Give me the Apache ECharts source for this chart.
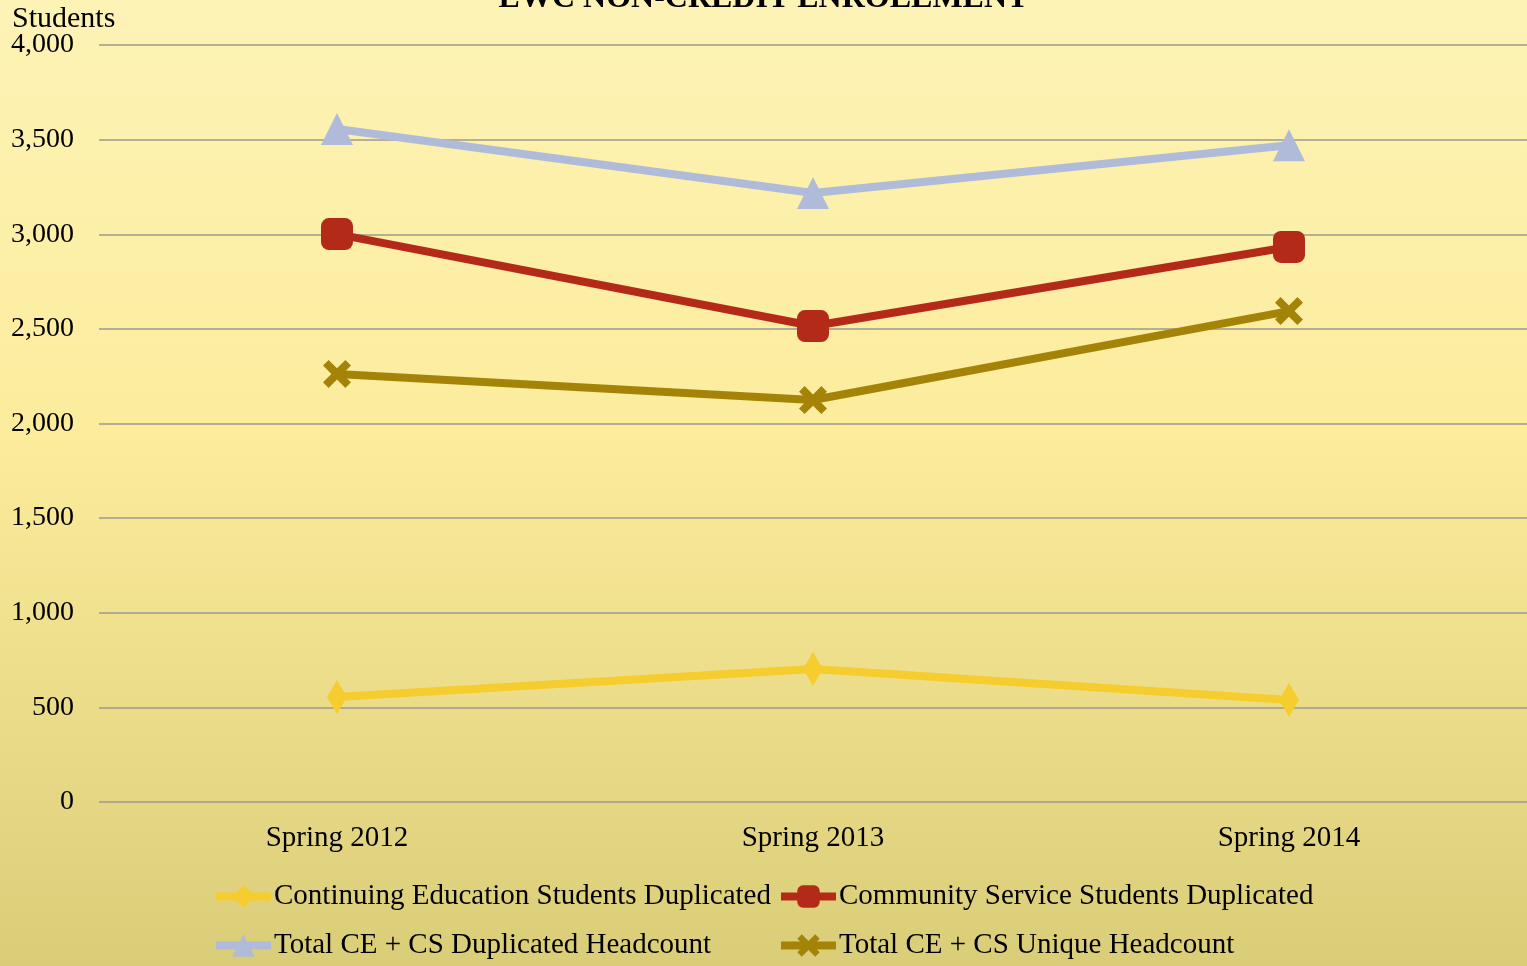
<!DOCTYPE html>
<html>
<head>
<meta charset="utf-8">
<script src="https://cdn.jsdelivr.net/npm/echarts@6/dist/echarts.min.js"></script>
<style>
  html, body { margin: 0; padding: 0; }
  #chart { width: 1527px; height: 966px; }
</style>
</head>
<body>
<div id="chart"></div>
<script>
let categories = ['Spring 2012', 'Spring 2013', 'Spring 2014'];
let ceDuplicated = [555, 703, 539];
let csDuplicated = [3001, 2515, 2933];
let totalDuplicated = [3556, 3218, 3470];
let totalUnique = [2262, 2124, 2594];
let yTicks = [0, 500, 1000, 1500, 2000, 2500, 3000, 3500, 4000];

let chart = echarts.init(document.querySelector('#chart'));

const serif = '"Liberation Serif", "Times New Roman", serif';
const xPath = 'path://M0,2 L2,0 L5,3 L8,0 L10,2 L7,5 L10,8 L8,10 L5,7 L2,10 L0,8 L3,5 Z';

function lineSeries(name, data, color, symbol, size) {
  return {
    name: name,
    type: 'line',
    data: data,
    symbol: symbol,
    symbolSize: size,
    showAllSymbol: true,
    lineStyle: { color: color, width: 8 },
    itemStyle: { color: color },
    emphasis: { disabled: true }
  };
}

let legendText = { fontFamily: serif, fontSize: 29, color: '#000', padding: [0, 0, 0, -2] };

let option = {
  animation: false,
  backgroundColor: {
    type: 'linear', x: 0, y: 0, x2: 0, y2: 1,
    colorStops: [
      { offset: 0, color: '#fdf3b6' },
      { offset: 0.45, color: '#fcec9c' },
      { offset: 1, color: '#dacd78' }
    ]
  },
  title: [
    {
      text: 'EWC NON-CREDIT ENROLLMENT',
      left: 'center',
      top: -22,
      textStyle: { fontFamily: serif, fontSize: 32, fontWeight: 'bold', color: '#000' }
    },
    {
      // y axis name
      text: 'Students',
      left: 12, top: 4,
      padding: 0,
      textStyle: { fontFamily: serif, fontSize: 30, fontWeight: 'normal', color: '#000' }
    }
  ],
  grid: { left: 99, right: 0, top: 45, bottom: 164 },
  legend: [
    {
      data: ['Continuing Education Students Duplicated', 'Total CE + CS Duplicated Headcount'],
      orient: 'vertical',
      left: 212, top: 882,
      padding: 0,
      itemGap: 20,
      itemWidth: 55, itemHeight: 28,
      lineStyle: { width: 8 },
      textStyle: legendText
    },
    {
      data: ['Community Service Students Duplicated', 'Total CE + CS Unique Headcount'],
      orient: 'vertical',
      left: 777, top: 882,
      padding: 0,
      itemGap: 20,
      itemWidth: 55, itemHeight: 28,
      lineStyle: { width: 8 },
      textStyle: legendText
    }
  ],
  xAxis: {
    type: 'category',
    data: categories,
    axisLine: { show: false },
    axisTick: { show: false },
    axisLabel: { fontFamily: serif, fontSize: 29, color: '#000', margin: 22 }
  },
  yAxis: {
    type: 'value',
    min: yTicks[0],
    max: yTicks[yTicks.length - 1],
    interval: 500,
    axisLine: { show: false },
    axisTick: { show: false },
    axisLabel: {
      fontFamily: serif, fontSize: 28, color: '#000', margin: 25,
      formatter: v => v.toLocaleString('en-US')
    },
    splitLine: { lineStyle: { color: '#9c9a8c', width: 1.5 } }
  },
  series: [
    lineSeries('Continuing Education Students Duplicated', ceDuplicated, '#f5cd2e', 'diamond', [20, 34]),
    lineSeries('Community Service Students Duplicated', csDuplicated, '#b32a18', 'roundRect', 32),
    lineSeries('Total CE + CS Duplicated Headcount', totalDuplicated, '#afbbd9', 'triangle', 32),
    lineSeries('Total CE + CS Unique Headcount', totalUnique, '#a48408', xPath, 28)
  ]
};

chart.setOption(option);
</script>
</body>
</html>
